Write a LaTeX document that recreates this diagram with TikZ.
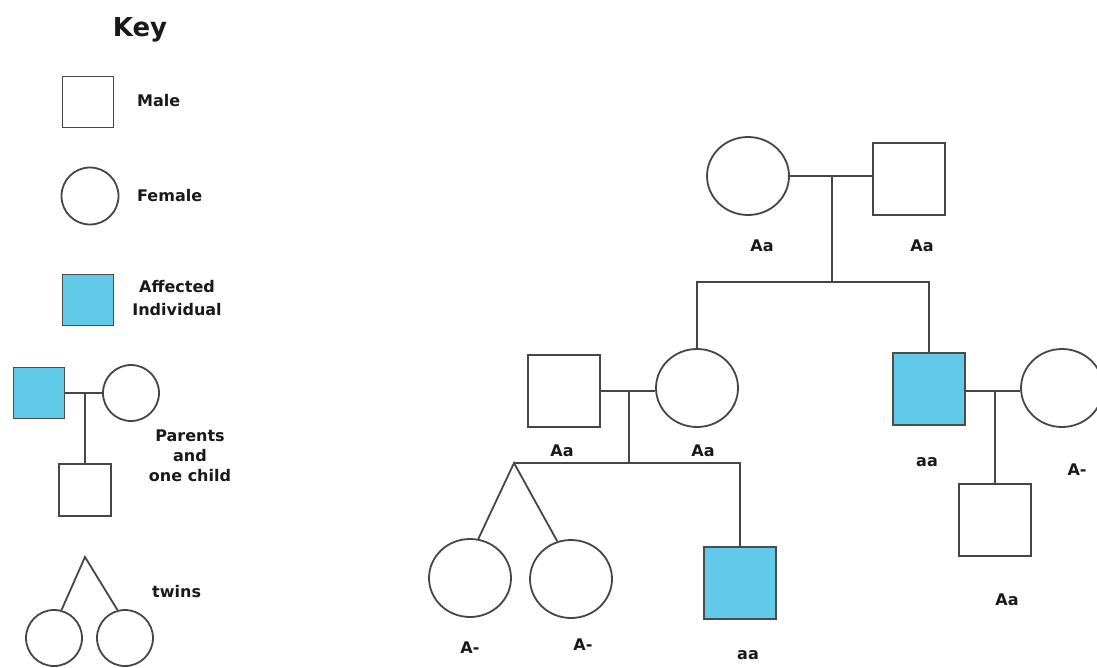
\documentclass[tikz,border=0pt]{standalone}
\usepackage{fontspec}
\setmainfont{DejaVu Sans}
\usepackage{xcolor}
\usetikzlibrary{shapes.geometric,positioning}
\definecolor{affblue}{RGB}{96,202,232}
\definecolor{penc}{RGB}{70,70,70}
\tikzset{
  male/.style={rectangle, draw=penc, line width=1.8pt, inner sep=0pt,
               minimum width=#1, minimum height=#1, fill=white},
  male/.default=72pt,
  female/.style={ellipse, draw=penc, line width=1.8pt, inner sep=0pt,
                 minimum width=#1, minimum height=#1-4pt, fill=white},
  female/.default=82pt,
  affected/.style={male=#1, fill=affblue, draw=black!70},
  affected/.default=72pt,
  lbl/.style={font=\bfseries\fontsize{16}{20}\selectfont, text=black!90, inner sep=0pt},
  ln/.style={draw=penc, line width=1.8pt},
}

\begin{document}
\begin{tikzpicture}[x=1pt, y=-1pt]
  \useasboundingbox (0,0) rectangle (1097,667);
  % key
  \node[lbl, font=\bfseries\fontsize{26}{30}\selectfont] (keyT) at (140,30) {Key};
  \node[male=51pt] (kMale) at (88,102) {};
  \node[lbl, anchor=west] (kMaleT) at (137,101) {Male};
  \node[female=57pt, minimum height=57pt] (kFem) at (90,196) {};
  \node[lbl, anchor=west] (kFemT) at (137,196) {Female};
  \node[affected=51pt] (kAff) at (88,300) {};
  \node[lbl, align=center, font=\bfseries\fontsize{16}{23}\selectfont] (kAffT) at (177,298) {Affected\\Individual};
  % key: parents and one child
  \node[affected=51pt] (kDad) at (39,393) {};
  \node[female=56pt, minimum height=56pt] (kMom) at (131,393) {};
  \coordinate (kMid) at (85,393);
  \draw[ln] (kDad.east) -- (kMom.west);
  \node[male=52pt] (kKid) at (85,490) {};
  \draw[ln] (kMid) -- (kKid.north);
  \node[lbl, align=center, font=\bfseries\fontsize{16}{20}\selectfont] (kParT) at (190,456) {Parents\\and\\one child};
  % key: twins
  \coordinate (kApex) at (85,557);
  \node[female=56pt, minimum height=56pt] (kTw1) at (54,638) {};
  \node[female=56pt, minimum height=56pt] (kTw2) at (125,638) {};
  \draw[ln] (kTw1.75) -- (kApex) -- (kTw2.105);
  \node[lbl, anchor=west] (kTwT) at (152,592) {twins};

  % generation I
  \node[female] (gMa) at (748,176) {};
  \node[male] (gPa) at (909,179) {};
  \coordinate (m1) at (832,176);
  \draw[ln] (gMa.east) -- (gPa.west |- gMa.east);
  \node[lbl] (gMaT) at (762,246) {Aa};
  \node[lbl] (gPaT) at (922,246) {Aa};
  % generation II
  \node[male] (h2) at (564,391) {};
  \node[female] (f2) at (697,388) {};
  \node[affected] (s2) at (929,389) {};
  \node[female] (w2) at (1062,388) {};
  \coordinate (sib1L) at (f2.north |- 0,282);
  \coordinate (sib1R) at (s2.north |- 0,282);
  \draw[ln] (m1) -- (m1 |- sib1L);
  \draw[ln] (f2.north) -- (sib1L) -- (sib1R) -- (s2.north);
  \coordinate (m2) at (629,391);
  \draw[ln] (h2.east |- m2) -- (f2.west |- m2);
  \node[male] (c4) at (995,520) {};
  \coordinate (m3) at (c4.north |- 0,391);
  \draw[ln] (s2.east |- m3) -- (w2.west |- m3);
  \node[lbl] (h2T) at (562,451) {Aa};
  \node[lbl] (f2T) at (703,451) {Aa};
  \node[lbl] (s2T) at (927,462) {aa};
  \node[lbl] (w2T) at (1077,470) {A-};
  % generation III
  \node[female] (c1) at (470,578) {};
  \node[female] (c2) at (571,579) {};
  \node[affected] (c3) at (740,583) {};
  \coordinate (apex) at (514,463);
  \coordinate (sib2R) at (c3.north |- apex);
  \draw[ln] (m2) -- (m2 |- apex);
  \draw[ln] (apex) -- (sib2R) -- (c3.north);
  \draw[ln] (c1.78) -- (apex) -- (c2.110);
  \draw[ln] (m3) -- (c4.north);
  \node[lbl] (c1T) at (470,648) {A-};
  \node[lbl] (c2T) at (583,645) {A-};
  \node[lbl] (c3T) at (748,655) {aa};
  \node[lbl] (c4T) at (1007,600) {Aa};
\end{tikzpicture}
\end{document}
